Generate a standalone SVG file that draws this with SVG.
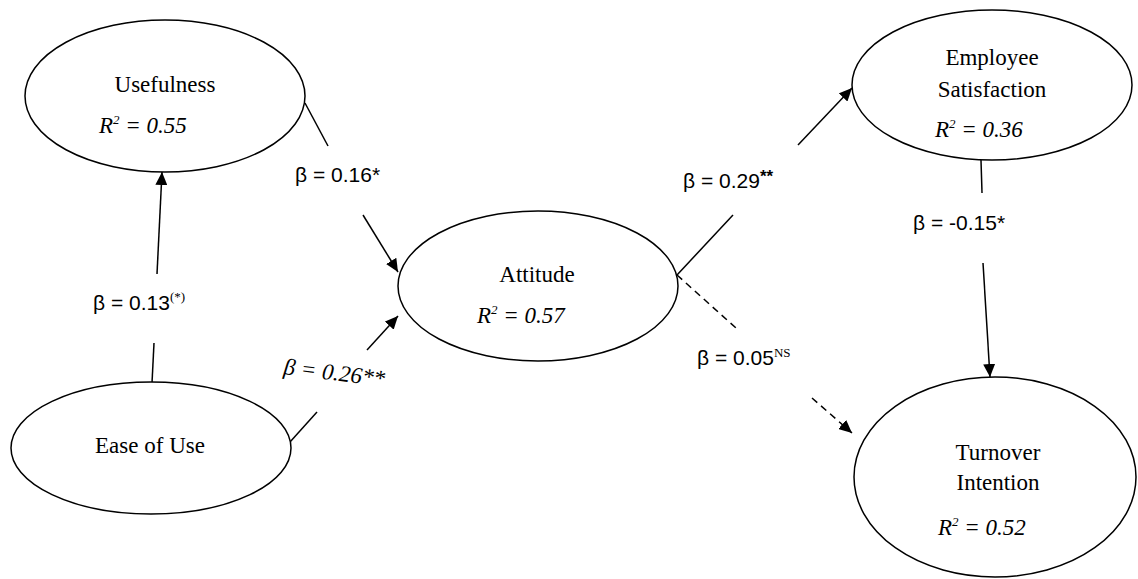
<svg xmlns="http://www.w3.org/2000/svg" width="1138" height="579" viewBox="0 0 1138 579">
<style>
.node{fill:#fff;stroke:#000;stroke-width:1.5}
.nt{font-family:"Liberation Serif","Times New Roman",serif;font-size:23px;fill:#000;text-anchor:middle}
.r2{font-family:"Liberation Serif","Times New Roman",serif;font-size:23px;font-style:italic;fill:#000}
.sup{font-size:13px}
.lbl{font-family:"Liberation Sans",Arial,sans-serif;font-size:21px;fill:#000}
.ln{stroke:#000;stroke-width:1.5;fill:none}
.dash{stroke-dasharray:7,5}
</style>
<defs>
<marker id="ah" markerUnits="userSpaceOnUse" markerWidth="14" markerHeight="12" refX="13" refY="6" orient="auto">
<path d="M0,0 L13,6 L0,12 z" fill="#000" stroke="none"/>
</marker>
</defs>
<rect width="1138" height="579" fill="#fff"/>
<g id="connectors">
<line class="ln" x1="305" y1="103" x2="328" y2="146"/>
<line class="ln" x1="363" y1="215" x2="398" y2="272" marker-end="url(#ah)"/>
<line class="ln" x1="152" y1="383" x2="154" y2="343"/>
<line class="ln" x1="157" y1="274" x2="162" y2="172" marker-end="url(#ah)"/>
<line class="ln" x1="290" y1="442" x2="317" y2="412"/>
<line class="ln" x1="367" y1="350" x2="398" y2="316" marker-end="url(#ah)"/>
<line class="ln" x1="677" y1="275" x2="733" y2="215"/>
<line class="ln" x1="798" y1="145" x2="852" y2="88" marker-end="url(#ah)"/>
<line class="ln dash" x1="677" y1="275" x2="736" y2="328"/>
<line class="ln dash" x1="812" y1="398" x2="852" y2="433" marker-end="url(#ah)"/>
<line class="ln" x1="981" y1="160" x2="982" y2="193"/>
<line class="ln" x1="983" y1="263" x2="990" y2="377" marker-end="url(#ah)"/>
<text class="lbl" x="295" y="182">β = 0.16*</text>
<text class="lbl" x="93" y="310">β = 0.13<tspan class="sup" dy="-9" font-family="Liberation Serif">(*)</tspan></text>
<text class="r2" x="283" y="374" transform="rotate(7 283 374)" font-size="22">β = 0.26**</text>
<text class="lbl" x="683" y="188">β = 0.29<tspan dy="-6" font-size="17" font-weight="bold">**</tspan></text>
<text class="lbl" x="913" y="230">β = -0.15*</text>
<text class="lbl" x="697" y="365">β = 0.05<tspan class="sup" dy="-8" font-family="Liberation Serif">NS</tspan></text>
</g>
<g id="usefulness">
<ellipse class="node" cx="165" cy="96" rx="140" ry="76"/>
<text class="nt" x="165" y="92">Usefulness</text>
<text class="r2" x="99" y="133">R<tspan class="sup" dy="-9">2</tspan><tspan dy="9"> = 0.55</tspan></text>
</g>
<g id="ease">
<ellipse class="node" cx="151" cy="448" rx="140" ry="66"/>
<text class="nt" x="150" y="453">Ease of Use</text>
</g>
<g id="attitude">
<ellipse class="node" cx="538" cy="286" rx="140" ry="75"/>
<text class="nt" x="537" y="282">Attitude</text>
<text class="r2" x="477" y="323">R<tspan class="sup" dy="-9">2</tspan><tspan dy="9"> = 0.57</tspan></text>
</g>
<g id="satisfaction">
<ellipse class="node" cx="992" cy="85" rx="140" ry="75"/>
<text class="nt" x="992" y="65">Employee</text>
<text class="nt" x="992" y="97">Satisfaction</text>
<text class="r2" x="935" y="137">R<tspan class="sup" dy="-9">2</tspan><tspan dy="9"> = 0.36</tspan></text>
</g>
<g id="turnover">
<ellipse class="node" cx="995" cy="477" rx="141" ry="100"/>
<text class="nt" x="998" y="460">Turnover</text>
<text class="nt" x="998" y="490">Intention</text>
<text class="r2" x="938" y="535">R<tspan class="sup" dy="-9">2</tspan><tspan dy="9"> = 0.52</tspan></text>
</g>
</svg>
